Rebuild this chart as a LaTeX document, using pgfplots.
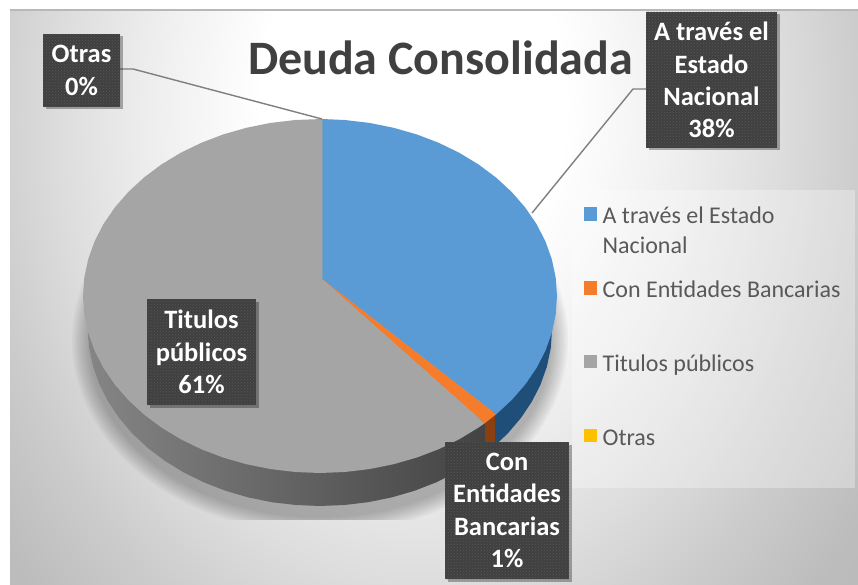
\documentclass[border=0pt]{standalone}
\usepackage{fontspec}
\setmainfont{Carlito}
\usepackage{xcolor}
\usepackage{tikz}
\usepackage{pgfplots}
\pgfplotsset{compat=1.18}
\usetikzlibrary{patterns,shadows}

\definecolor{pieblue}{HTML}{5B9BD5}
\definecolor{pieorange}{HTML}{F47C2A}
\definecolor{piegray}{HTML}{A5A5A5}
\definecolor{pieyellow}{HTML}{FFC000}
\definecolor{sideblue}{HTML}{1F4E79}
\definecolor{sideorange}{HTML}{8A3F10}
\definecolor{sidelight}{HTML}{858585}
\definecolor{sidedark}{HTML}{434343}
\definecolor{labelbg}{HTML}{404040}
\definecolor{labeldot}{HTML}{565656}
\definecolor{titletext}{HTML}{404040}
\definecolor{legtext}{HTML}{595959}
\definecolor{leader}{HTML}{7F7F7F}

\pgfdeclareradialshading{chartbg}{\pgfpoint{-1.5bp}{2.75bp}}{%
  color(0bp)=(white);
  color(9bp)=(white);
  color(16bp)=(black!7);
  color(21bp)=(black!13);
  color(26bp)=(black!20);
  color(31bp)=(black!26);
  color(50bp)=(black!35)}

\tikzset{
  lab/.style={
    fill=labelbg, text=white, align=center, inner sep=0pt,
    font=\fontsize{26.5}{32.3}\bfseries\selectfont,
    drop shadow={shadow xshift=2.5pt, shadow yshift=-2.5pt, opacity=0.3, fill=black},
    postaction={pattern=crosshatch dots, pattern color=labeldot}},
}

\begin{document}
\begin{tikzpicture}
\path[use as bounding box] (0pt,0pt) rectangle (858pt,585pt);

% chart area
\begin{scope}
  \clip (10pt,0pt) rectangle (858pt,575pt);
  \fill[shading=chartbg] (10pt,-115pt) rectangle (858pt,985pt);
\end{scope}
\draw[black!28, line width=1.5pt] (10pt,575pt) -- (858pt,575pt);

% soft shadow under the pie
\begin{scope}
  \clip (10pt,65pt) rectangle (572pt,420pt);
  \foreach \r in {0,2,...,16}
    \fill[black, opacity=0.03] (320pt,245pt) ellipse [x radius={232pt+\r pt}, y radius={178pt+\r pt}];
\end{scope}

% legend panel
\fill[white, opacity=0.3] (572pt,97pt) rectangle (855pt,395pt);

\begin{axis}[
  scale only axis, width=858pt, height=585pt,
  at={(0pt,0pt)}, anchor=south west,
  xmin=0, xmax=858, ymin=0, ymax=585, y dir=reverse,
  axis lines=none, clip=false,
  legend image code/.code={\fill[#1] (0pt,-4.5pt) rectangle (13.5pt,9pt);},
  legend cell align=left,
  legend style={
    at={(0.680,0.6496)}, anchor=north west, draw=none, fill=none,
    font=\fontsize{24}{24}\selectfont, text=legtext,
    row sep=51.5pt, inner sep=0pt,
    nodes={inner xsep=5.5pt, inner ysep=2pt},
  },
]

% pie side
\addplot[forget plot, draw=none, left color=sidelight, middle color=sidedark, right color=sidedark] coordinates {
  (485,420) (485,453.8) (475.2,460.8) (456.4,472.4) (436,482.4) (414.4,490.8) (391.7,497.4) (368.2,502.2)
  (344.3,505) (320,506) (295.7,505) (271.8,502.2) (248.3,497.4) (225.6,490.8) (204,482.4) (183.6,472.4)
  (164.8,460.8) (147.6,447.8) (132.3,433.5) (119.1,418) (108.1,401.6) (99.4,384.4) (93.1,366.6) (89.3,348.4)
  (88,330) (200,300)
} -- cycle;
\addplot[forget plot, draw=none, fill=sideorange] coordinates {
  (495,410) (495,445.5) (492.4,447.8) (485,453.8) (485,420)
} -- cycle;
\addplot[forget plot, draw=none, fill=sideblue] coordinates {
  (552,325) (552,330) (550.7,348.4) (546.9,366.6) (540.6,384.4) (531.9,401.6) (520.9,418) (507.7,433.5)
  (495,445.5) (495,410) (520,380)
} -- cycle;

% pie top
\addplot[draw=none, fill=pieblue] coordinates {
  (322,279) (322,119) (344.8,120) (369.3,122.9) (393.2,127.7) (416.4,134.3) (438.5,142.7) (459.3,152.8)
  (478.6,164.5) (496.1,177.6) (511.7,192) (525.2,207.5) (536.5,224) (545.4,241.3) (551.8,259.2)
  (555.7,277.5) (557,296) (555.7,314.5) (551.8,332.8) (545.4,350.7) (536.5,368) (525.2,384.5)
  (511.7,400) (496.1,414.4)
} -- cycle;
\addlegendentry{\strut\smash{\parbox[t]{230pt}{\setlength{\baselineskip}{30pt}A través el Estado\\Nacional}}}
\addplot[draw=none, fill=pieorange] coordinates {
  (322,279) (496.1,414.4) (484.6,423.3)
} -- cycle;
\addlegendentry{\strut Con Entidades Bancarias}
\addplot[draw=none, fill=piegray] coordinates {
  (322,279) (484.6,423.3) (478.6,427.5) (459.3,439.2) (438.5,449.3) (416.4,457.7) (393.2,464.3) (369.3,469.1)
  (344.8,472) (320,473) (295.2,472) (270.7,469.1) (246.8,464.3) (223.6,457.7) (201.5,449.3) (180.7,439.2)
  (161.4,427.5) (143.9,414.4) (128.3,400) (114.8,384.5) (103.5,368) (94.6,350.7) (88.2,332.8) (84.3,314.5)
  (83,296) (84.3,277.5) (88.2,259.2) (94.6,241.3) (103.5,224) (114.8,207.5) (128.3,192) (143.9,177.6)
  (161.4,164.5) (180.7,152.8) (201.5,142.7) (223.6,134.3) (246.8,127.7) (270.7,122.9) (295.2,120) (322,119)
} -- cycle;
\addlegendentry{\strut Titulos públicos}
\addplot[draw=none, fill=pieyellow] coordinates {(322,279) (322,119)} -- cycle;
\addlegendentry{\strut Otras}

% leader lines
\addplot[forget plot, leader, line width=1.4pt] coordinates {(120,69) (133,69) (322,119)};
\addplot[forget plot, leader, line width=1.4pt] coordinates {(646,89) (633,89) (532,213)};

\node[anchor=base, text=titletext, font=\fontsize{48}{52}\bfseries\selectfont] at (axis cs:440.5,75) {Deuda Consolidada};

\node[lab, minimum width=77pt, minimum height=73pt] at (axis cs:81.5,70.5) {Otras\\0\%};
\node[lab, minimum width=131pt, minimum height=136pt] at (axis cs:711.5,80) {A través el\\Estado\\Nacional\\38\%};
\node[lab, minimum width=109pt, minimum height=106pt] at (axis cs:201.5,352) {Titulos\\públicos\\61\%};
\node[lab, minimum width=124pt, minimum height=137pt] at (axis cs:507,510.5) {Con\\Entidades\\Bancarias\\1\%};

\end{axis}
\end{tikzpicture}
\end{document}
